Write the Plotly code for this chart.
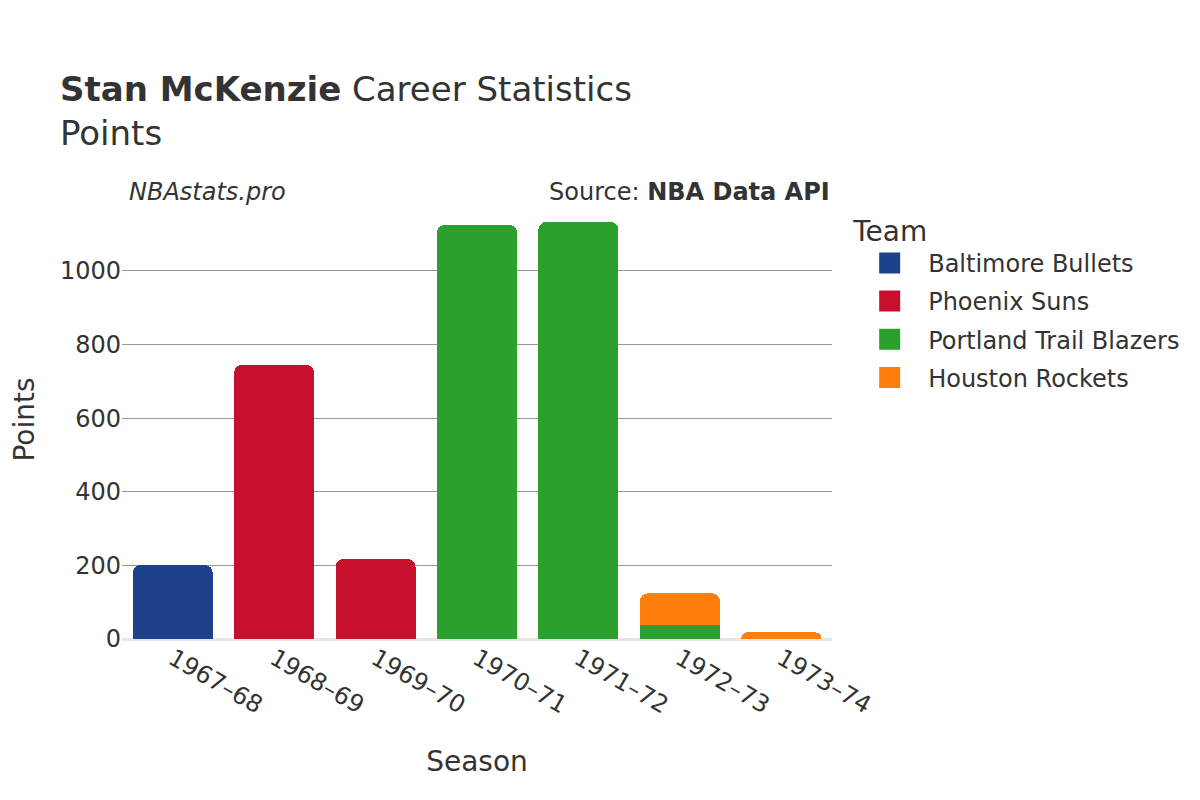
import plotly.graph_objects as go

seasons = ['1967–68', '1968–69', '1969–70', '1970–71', '1971–72', '1972–73', '1973–74']

teams = ['Baltimore Bullets', 'Phoenix Suns', 'Portland Trail Blazers', 'Houston Rockets']
team_colors = ['#1d428a', '#c8102e', '#2ca02c', '#ff7f0e']

baltimore_pts = [201, None, None, None, None, None, None]
phoenix_pts = [None, 745, 217, None, None, None, None]
portland_pts = [None, None, None, 1125, 1133, 38, None]
houston_pts = [None, None, None, None, None, 86, 18]

team_points = [baltimore_pts, phoenix_pts, portland_pts, houston_pts]

font_family = 'DejaVu Sans'
text_color = '#333333'

fig = go.Figure()
for team, color, pts in zip(teams, team_colors, team_points):
  fig.add_trace(go.Bar(x=seasons, y=pts, name=team, legendgroup=team, showlegend=False,
                       marker=dict(color=color, line=dict(width=0))))
  # legend entry only (bigger square symbol than the bar default)
  fig.add_trace(go.Scatter(x=[None], y=[None], mode='markers', name=team, legendgroup=team,
                           marker=dict(symbol='square', size=16, color=color, line=dict(color=color, width=5))))

fig.update_layout(
  width=1200, height=800,
  barmode='stack', barcornerradius=8, bargap=0.21,
  plot_bgcolor='white', paper_bgcolor='white',
  font=dict(family=font_family, color=text_color, size=24),
  title=dict(text='<b>Stan McKenzie</b> Career Statistics<br>Points', x=52/1200, xanchor='left',
             y=0.884, yanchor='top', font=dict(size=34, color=text_color)),
  margin=dict(l=114, r=376, t=192, b=169),
  legend=dict(title=dict(text='Team', font=dict(size=28)), font=dict(size=24),
              x=1.027, xanchor='left', y=0.99, yanchor='top', traceorder='grouped',
              tracegroupgap=4, itemwidth=67),
  xaxis=dict(title=dict(text='Season', font=dict(size=28), standoff=32), tickangle=30, tickfont=dict(size=24),
             showline=False, showgrid=False, automargin=False),
  yaxis=dict(title=dict(text='Points', font=dict(size=28), standoff=43), tickfont=dict(size=24),
             gridcolor='#999999', zeroline=True, zerolinecolor='#e6e6e6', zerolinewidth=3, automargin=False),
  annotations=[
    dict(text='<i>NBAstats.pro</i>', x=0.0, y=1.018, xref='paper', yref='paper', xanchor='left', yanchor='middle',
         showarrow=False, font=dict(size=24), xshift=5),
    dict(text='Source: <b>NBA Data API</b>', x=1.0, y=1.018, xref='paper', yref='paper', xanchor='right', yanchor='middle',
         showarrow=False, font=dict(size=24)),
  ],
)

fig.write_html('out.html')
